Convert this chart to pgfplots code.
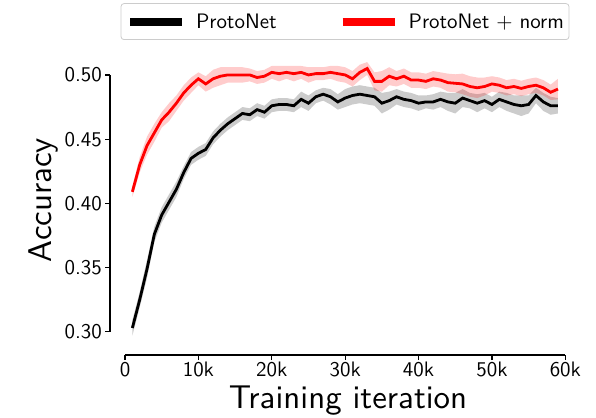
\documentclass[border=0pt]{standalone}
\usepackage{fontspec}
\setsansfont{lmsans10-regular.otf}
\usepackage{pgfplots}
\pgfplotsset{compat=1.18}
\usepgfplotslibrary{fillbetween}
\usepackage{pgfplotstable}

\pgfplotstableread{
x m lo hi
1000 0.303 0.297 0.309
2000 0.325 0.319 0.331
3000 0.349 0.342 0.356
4000 0.376 0.370 0.382
5000 0.391 0.385 0.397
6000 0.401 0.395 0.407
7000 0.411 0.405 0.417
8000 0.424 0.419 0.429
9000 0.435 0.430 0.440
10000 0.439 0.434 0.444
11000 0.442 0.437 0.447
12000 0.451 0.446 0.456
13000 0.457 0.452 0.462
14000 0.462 0.457 0.467
15000 0.466 0.461 0.471
16000 0.470 0.465 0.475
17000 0.469 0.464 0.474
18000 0.473 0.468 0.478
19000 0.471 0.466 0.476
20000 0.476 0.471 0.481
21000 0.477 0.472 0.482
22000 0.477 0.472 0.482
23000 0.476 0.471 0.481
24000 0.481 0.475 0.487
25000 0.478 0.472 0.484
26000 0.483 0.478 0.488
27000 0.485 0.480 0.490
28000 0.483 0.477 0.489
29000 0.479 0.473 0.485
30000 0.482 0.475 0.489
31000 0.484 0.477 0.491
32000 0.485 0.478 0.492
33000 0.484 0.477 0.491
34000 0.483 0.476 0.490
35000 0.478 0.470 0.486
36000 0.480 0.473 0.487
37000 0.483 0.477 0.489
38000 0.481 0.475 0.487
39000 0.480 0.474 0.486
40000 0.478 0.472 0.484
41000 0.479 0.474 0.484
42000 0.479 0.473 0.485
43000 0.481 0.475 0.487
44000 0.479 0.472 0.486
45000 0.478 0.470 0.486
46000 0.482 0.475 0.489
47000 0.480 0.474 0.486
48000 0.478 0.471 0.485
49000 0.480 0.474 0.486
50000 0.477 0.471 0.483
51000 0.481 0.475 0.487
52000 0.479 0.472 0.486
53000 0.477 0.470 0.484
54000 0.476 0.468 0.484
55000 0.477 0.470 0.484
56000 0.484 0.478 0.490
57000 0.479 0.472 0.486
58000 0.476 0.469 0.483
59000 0.476 0.470 0.482
}\tblA

\pgfplotstableread{
x m lo hi
1000 0.409 0.405 0.413
2000 0.430 0.424 0.436
3000 0.445 0.438 0.452
4000 0.455 0.448 0.462
5000 0.465 0.459 0.471
6000 0.471 0.464 0.478
7000 0.478 0.472 0.484
8000 0.486 0.480 0.492
9000 0.492 0.486 0.498
10000 0.497 0.492 0.502
11000 0.493 0.487 0.499
12000 0.497 0.490 0.504
13000 0.499 0.492 0.506
14000 0.500 0.494 0.506
15000 0.500 0.494 0.506
16000 0.500 0.494 0.506
17000 0.500 0.495 0.505
18000 0.498 0.493 0.503
19000 0.499 0.494 0.504
20000 0.502 0.497 0.507
21000 0.501 0.495 0.507
22000 0.502 0.497 0.507
23000 0.501 0.495 0.507
24000 0.502 0.497 0.507
25000 0.500 0.494 0.506
26000 0.501 0.496 0.506
27000 0.501 0.496 0.506
28000 0.502 0.497 0.507
29000 0.501 0.495 0.507
30000 0.500 0.494 0.506
31000 0.497 0.491 0.503
32000 0.502 0.496 0.508
33000 0.505 0.500 0.510
34000 0.495 0.488 0.502
35000 0.495 0.487 0.503
36000 0.499 0.492 0.506
37000 0.497 0.491 0.503
38000 0.499 0.493 0.505
39000 0.496 0.490 0.502
40000 0.496 0.490 0.502
41000 0.495 0.489 0.501
42000 0.497 0.491 0.503
43000 0.496 0.490 0.502
44000 0.494 0.487 0.501
45000 0.4935 0.4865 0.5005
46000 0.493 0.485 0.501
47000 0.491 0.483 0.499
48000 0.490 0.482 0.498
49000 0.491 0.484 0.498
50000 0.493 0.487 0.499
51000 0.492 0.486 0.498
52000 0.490 0.484 0.496
53000 0.491 0.485 0.497
54000 0.4895 0.4835 0.4955
55000 0.491 0.485 0.497
56000 0.492 0.486 0.498
57000 0.490 0.484 0.496
58000 0.4865 0.4805 0.4925
59000 0.489 0.481 0.497
}\tblB

\begin{document}
\begin{tikzpicture}
\begin{axis}[
  at={(0,0)}, anchor=south west,
  scale only axis, width=470bp, height=310bp,
  xmin=-2046, xmax=62000, ymin=0.282, ymax=0.5233,
  axis lines*=left,
  axis line style={draw=none},
  clip=false,
  tick align=outside,
  major tick length=5bp,
  tick style={line width=1.2bp, black},
  xtick={0,10000,20000,30000,40000,50000,60000},
  xticklabels={0,10k,20k,30k,40k,50k,60k},
  ytick={0.30,0.35,0.40,0.45,0.50},
  yticklabels={0.30,0.35,0.40,0.45,0.50},
  scaled x ticks=false,
  ticklabel style={font=\sffamily\fontsize{21}{25}\selectfont},
  yticklabel style={inner xsep=3bp},
  xticklabel style={inner ysep=2bp},
  every axis y label/.style={at={([xshift=-51.5bp]axis description cs:0,0.5)}, rotate=90, anchor=south, inner sep=0pt, font=\sffamily\fontsize{33}{38}\selectfont},
  every axis x label/.style={at={([xshift=3bp,yshift=-53bp]axis description cs:0.5,0)}, anchor=base, inner sep=0pt, font=\sffamily\fontsize{33}{38}\selectfont},
  xlabel={Training iteration},
  ylabel={Accuracy},
  legend columns=2,
  legend image code/.code={\draw[#1, line width=8bp] (0bp,0bp) -- (52bp,0bp);},
  legend style={at={(0.5,1)}, anchor=south, yshift=5bp,
    draw=black!20, line width=0.8bp, rounded corners=3bp,
    inner xsep=5bp, inner ysep=3bp,
    font=\sffamily\fontsize{21}{25}\selectfont,
    nodes={inner xsep=0bp, inner ysep=7bp},
    /tikz/every odd column/.append style={column sep=10bp},
    /tikz/every even column/.append style={column sep=62bp}},
]
\addplot[name path=al, draw=none, forget plot] table[x=x, y=lo] {\tblA};
\addplot[name path=ah, draw=none, forget plot] table[x=x, y=hi] {\tblA};
\addplot[fill=black, fill opacity=0.2, draw=none, forget plot] fill between[of=al and ah];
\addplot[black, line width=2.8bp] table[x=x, y=m] {\tblA};
\addlegendentry{ProtoNet}
\addplot[name path=bl, draw=none, forget plot] table[x=x, y=lo] {\tblB};
\addplot[name path=bh, draw=none, forget plot] table[x=x, y=hi] {\tblB};
\addplot[fill=red, fill opacity=0.2, draw=none, forget plot] fill between[of=bl and bh];
\addplot[red, line width=2.8bp] table[x=x, y=m] {\tblB};
\addlegendentry{ProtoNet + norm}
\draw[line width=1.2bp] (axis cs:0,0.282) -- (axis cs:60000,0.282);
\draw[line width=1.2bp] (axis cs:-2046,0.30) -- (axis cs:-2046,0.50);
\end{axis}
\pgfresetboundingbox
\path[use as bounding box] (-110bp,-63bp) rectangle (486bp,355bp);
\end{tikzpicture}
\end{document}
